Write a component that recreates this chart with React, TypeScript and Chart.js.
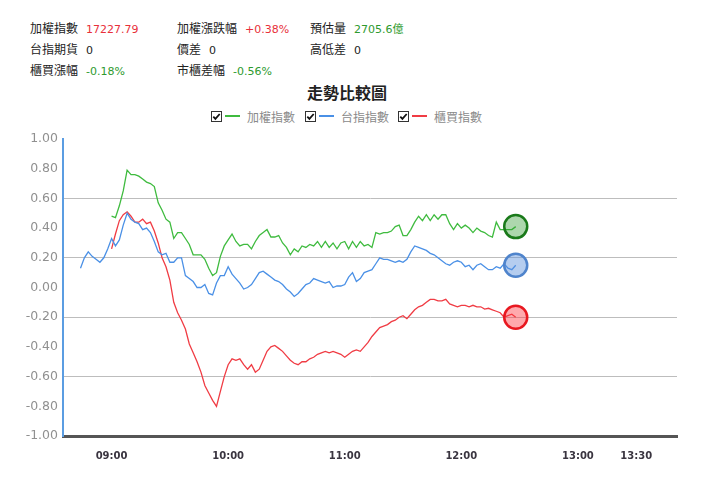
import { useEffect, useRef } from "react";
import { Chart, registerables } from "chart.js";

Chart.register(...registerables);

// time axis, minutes are counted from 09:00
const tickLabels = ["09:00", "10:00", "11:00", "12:00", "13:00", "13:30"];
const axisStart = "08:35";
const axisEnd = "13:51";
const stepMinutes = 2;

// 加權指數 (green), starts 09:00, one value every 2 minutes
const taiexStart = "09:00";
const taiexValues = [
  0.48, 0.47, 0.55, 0.65, 0.79, 0.76, 0.76, 0.75, 0.73, 0.71,
  0.7, 0.68, 0.57, 0.52, 0.46, 0.44, 0.33, 0.37, 0.37, 0.33,
  0.29, 0.22, 0.22,
  0.22, 0.19, 0.13, 0.08, 0.1, 0.21, 0.28, 0.32, 0.36, 0.31,
  0.28, 0.29, 0.29, 0.26, 0.31, 0.35, 0.37, 0.39, 0.34, 0.34,
  0.35, 0.3, 0.27, 0.22, 0.26, 0.24, 0.28, 0.27, 0.29, 0.28,
  0.31, 0.27, 0.31, 0.27, 0.3, 0.26, 0.3, 0.31, 0.26, 0.31,
  0.27, 0.31, 0.28, 0.29, 0.27, 0.37, 0.36, 0.37, 0.37, 0.38,
  0.41, 0.42, 0.35, 0.35, 0.39, 0.44, 0.48, 0.45, 0.49, 0.45,
  0.49, 0.46, 0.49, 0.49, 0.43, 0.39, 0.43, 0.4, 0.42, 0.4,
  0.37, 0.4, 0.38, 0.37, 0.35, 0.34, 0.44, 0.39, 0.39, 0.39,
  0.39, 0.41,
];

// 台指指數 (blue), starts 08:44
const futuresStart = "08:44";
const futuresValues = [
  0.13, 0.2, 0.24, 0.21, 0.19, 0.17, 0.2, 0.26,
  0.33, 0.28, 0.32, 0.42, 0.5, 0.46, 0.44, 0.43, 0.39, 0.4,
  0.37, 0.31, 0.24, 0.22, 0.23, 0.17, 0.17, 0.2, 0.2, 0.08,
  0.06, 0.04, 0.0,
  0.0, 0.02, -0.04, -0.05, 0.03, 0.08, 0.08, 0.14, 0.09, 0.06,
  0.03, -0.01, 0.0, 0.02, 0.06, 0.1, 0.11, 0.09, 0.07, 0.05,
  0.04, 0.02, -0.01, -0.03, -0.06, -0.04, -0.01, 0.02, 0.03, 0.06,
  0.05, 0.04, 0.03, 0.04, 0.0, 0.01, 0.01, 0.02, 0.07, 0.1,
  0.04, 0.06, 0.1, 0.11, 0.12, 0.16, 0.2, 0.19, 0.19, 0.18,
  0.17, 0.18, 0.17, 0.19, 0.24, 0.28, 0.27, 0.26, 0.25, 0.23,
  0.22, 0.2, 0.18, 0.16, 0.15, 0.17, 0.18, 0.17, 0.14, 0.15,
  0.12, 0.15, 0.16, 0.14, 0.12, 0.12, 0.14, 0.13, 0.16, 0.13,
  0.12, 0.15,
];

// 櫃買指數 (red), starts 09:00
const otcStart = "09:00";
const otcValues = [
  0.26, 0.36, 0.45, 0.49, 0.51, 0.48, 0.44, 0.44, 0.46, 0.43,
  0.44, 0.38, 0.3, 0.2, 0.14, 0.05, -0.1, -0.17, -0.22, -0.28,
  -0.38, -0.44, -0.5,
  -0.57, -0.66, -0.71, -0.76, -0.8, -0.7, -0.6, -0.52, -0.48, -0.49,
  -0.48, -0.52, -0.55, -0.52, -0.57, -0.55, -0.49, -0.43, -0.4, -0.39,
  -0.41, -0.43, -0.46, -0.49, -0.51, -0.52, -0.5, -0.5, -0.48, -0.47,
  -0.45, -0.44, -0.43, -0.44, -0.43, -0.44, -0.45, -0.47, -0.45, -0.43,
  -0.42, -0.43, -0.4, -0.37, -0.33, -0.3, -0.27, -0.26, -0.25, -0.23,
  -0.22, -0.2, -0.19, -0.21, -0.18, -0.15, -0.13, -0.12, -0.1, -0.08,
  -0.08, -0.09, -0.09, -0.08, -0.11, -0.12, -0.13, -0.12, -0.12, -0.13,
  -0.12, -0.13, -0.13, -0.145, -0.14, -0.15, -0.16, -0.17, -0.2, -0.19,
  -0.18, -0.2,
];

// header info: label, value, colour of value
const infoRows = [
  [["加權指數", "17227.79", "#e8303a"], ["加權漲跌幅", "+0.38%", "#e8303a"], ["預估量", "2705.6億", "#2e9a2e"]],
  [["台指期貨", "0", "#222"], ["價差", "0", "#222"], ["高低差", "0", "#222"]],
  [["櫃買漲幅", "-0.18%", "#2e9a2e"], ["市櫃差幅", "-0.56%", "#2e9a2e"]],
];

const seriesNames = ["加權指數", "台指指數", "櫃買指數"];
const lineColors = ["#3fbb3f", "#4a90e6", "#f03c44"];
const dotBorders = ["#1a7a1a", "#4f84cc", "#e81820"];
const dotFills = ["rgba(40,150,40,0.38)", "rgba(90,145,220,0.45)", "rgba(255,50,60,0.42)"];

const toMinutes = (t: string) => {
  const [h, m] = t.split(":").map(Number);
  return h * 60 + m - 540;
};

const toLabel = (v: number) => {
  const total = 540 + v;
  const h = Math.floor(total / 60);
  const m = total % 60;
  return String(h).padStart(2, "0") + ":" + String(m).padStart(2, "0");
};

const toPoints = (start: string, values: number[]) =>
  values.map((v, i) => ({ x: toMinutes(start) + i * stepMinutes, y: v }));

const numFont = "'DejaVu Sans', 'Noto Sans CJK TC', sans-serif";
const cjkFont = "'Noto Sans CJK TC', 'DejaVu Sans', sans-serif";

function CheckBox() {
  return (
    <svg width="11" height="11" viewBox="0 0 11 11" style={{ display: "block" }}>
      <rect x="0.5" y="0.5" width="10" height="10" fill="#fff" stroke="#333" />
      <polyline points="2.3,5.6 4.4,7.8 8.7,3" fill="none" stroke="#111" strokeWidth="1.8" />
    </svg>
  );
}

function TrendChart() {
  const canvasRef = useRef<HTMLCanvasElement | null>(null);

  useEffect(() => {
    if (!canvasRef.current) return;
    const series = [
      toPoints(taiexStart, taiexValues),
      toPoints(futuresStart, futuresValues),
      toPoints(otcStart, otcValues),
    ];
    const gridValues = [0.6, 0.2, -0.2, -0.6];

    const chart = new Chart(canvasRef.current, {
      type: "line",
      data: {
        datasets: series.map((points, k) => ({
          label: seriesNames[k],
          data: points,
          borderColor: lineColors[k],
          borderWidth: 1.3,
          tension: 0,
          fill: false,
          pointRadius: (ctx: any) => (ctx.dataIndex === points.length - 1 ? 11.5 : 0),
          pointHoverRadius: 0,
          pointBorderWidth: 2.5,
          pointBorderColor: dotBorders[k],
          pointBackgroundColor: dotFills[k],
        })),
      },
      options: {
        animation: false,
        responsive: false,
        maintainAspectRatio: false,
        layout: { padding: { top: 14, right: 43, left: 0, bottom: 0 } },
        plugins: {
          legend: { display: false },
          title: { display: false },
          tooltip: { enabled: false },
        },
        scales: {
          x: {
            type: "linear",
            min: toMinutes(axisStart),
            max: toMinutes(axisEnd),
            afterBuildTicks: (axis: any) => {
              axis.ticks = tickLabels.map((t) => ({ value: toMinutes(t) }));
            },
            afterFit: (axis: any) => {
              axis.height = 45;
            },
            ticks: {
              autoSkip: false,
              maxRotation: 0,
              padding: 6,
              color: "#3a3540",
              font: { family: numFont, size: 10, weight: "bold" },
              callback: (v: any) => toLabel(Number(v)),
            },
            grid: { display: false },
            border: { color: "#555", width: 3 },
          },
          y: {
            min: -1,
            max: 1,
            afterFit: (axis: any) => {
              axis.width = 63;
            },
            ticks: {
              stepSize: 0.2,
              padding: 5,
              color: "#909090",
              font: { family: numFont, size: 12.5 },
              callback: (v: any) => Number(v).toFixed(2),
            },
            grid: {
              drawTicks: false,
              lineWidth: 1,
              color: (ctx: any) =>
                gridValues.some((g) => Math.abs(ctx.tick.value - g) < 1e-6) ? "#bdbdbd" : "rgba(0,0,0,0)",
            },
            border: { color: "#5b9de2", width: 2 },
          },
        },
      },
    });

    return () => {
      chart.destroy();
    };
  }, []);

  return (
    <canvas
      ref={canvasRef}
      width={720}
      height={356}
      style={{ position: "absolute", left: 0, top: 125, width: 720, height: 356 }}
    />
  );
}

export default function App() {
  const colLeft = [30, 177, 310];
  const legendLeft = [211, 305, 398];

  return (
    <div style={{ position: "absolute", left: 0, top: 0, width: 720, height: 481, background: "#fff", overflow: "hidden" }}>
      {infoRows.map((row, r) =>
        row.map(([label, value, color], c) => (
          <div
            key={r + "-" + c}
            style={{
              position: "absolute",
              left: colLeft[c],
              top: 17 + r * 21,
              height: 21,
              lineHeight: "21px",
              whiteSpace: "nowrap",
              fontSize: 12,
              color: "#222",
              fontFamily: cjkFont,
            }}
          >
            <span>{label}</span>
            <span style={{ marginLeft: 8, color, fontFamily: numFont, fontSize: 11 }}>{value}</span>
          </div>
        ))
      )}
      <div
        style={{
          position: "absolute",
          left: 0,
          width: 694,
          top: 81,
          textAlign: "center",
          fontFamily: cjkFont,
          fontWeight: "bold",
          fontSize: 16,
          lineHeight: "22px",
          color: "#222",
        }}
      >
        走勢比較圖
      </div>
      {seriesNames.map((name, k) => (
        <div
          key={name}
          style={{
            position: "absolute",
            left: legendLeft[k],
            top: 108,
            height: 16,
            display: "flex",
            alignItems: "center",
            whiteSpace: "nowrap",
          }}
        >
          <CheckBox />
          <span style={{ display: "inline-block", width: 15, height: 1.5, background: lineColors[k], marginLeft: 3 }} />
          <span style={{ marginLeft: 7, fontFamily: cjkFont, fontSize: 12, color: "#8a8a8a" }}>{name}</span>
        </div>
      ))}
      <TrendChart />
    </div>
  );
}
